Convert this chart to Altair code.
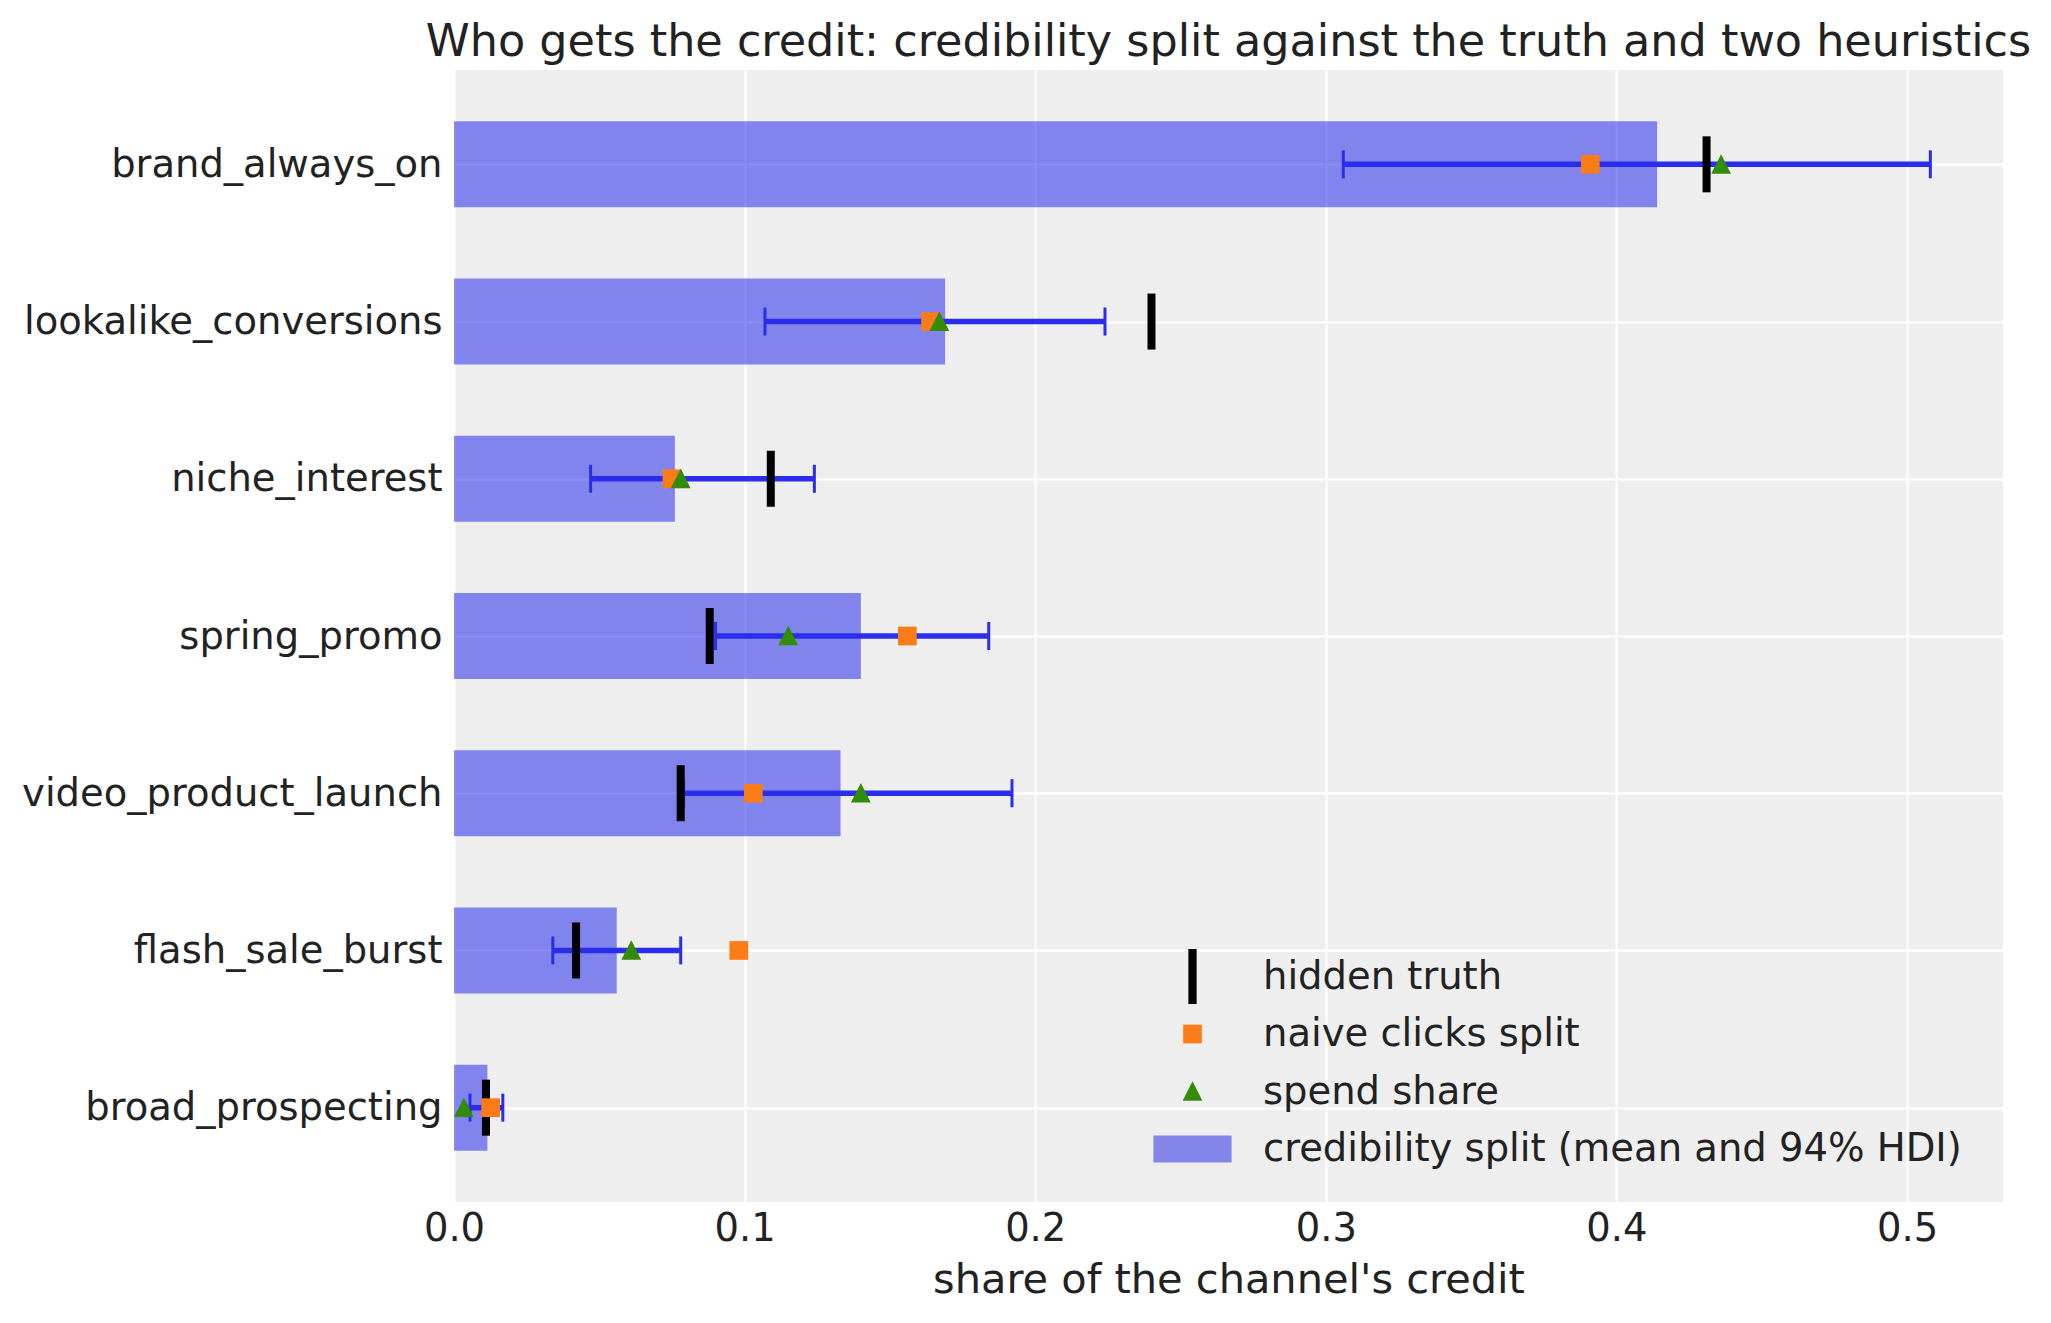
import pandas as pd
import altair as alt

# channels, top to bottom
channels = ["brand_always_on", "lookalike_conversions", "niche_interest", "spring_promo",
            "video_product_launch", "flash_sale_burst", "broad_prospecting"]

# credibility split: posterior mean and 94% HDI
cred_mean = [0.414, 0.169, 0.076, 0.140, 0.133, 0.056, 0.0115]
hdi_low = [0.306, 0.107, 0.047, 0.090, 0.079, 0.034, 0.0055]
hdi_high = [0.508, 0.224, 0.124, 0.184, 0.192, 0.078, 0.0168]

# reference splits
hidden_truth = [0.431, 0.240, 0.109, 0.088, 0.078, 0.042, 0.011]
naive_clicks = [0.391, 0.164, 0.075, 0.156, 0.103, 0.098, 0.0126]
spend_share = [0.436, 0.167, 0.078, 0.115, 0.140, 0.061, 0.0034]

x_ticks = [0.0, 0.1, 0.2, 0.3, 0.4, 0.5]

LBL_TRUTH = "hidden truth"
LBL_NAIVE = "naive clicks split"
LBL_SPEND = "spend share"
LBL_CRED = "credibility split (mean and 94% HDI)"

FONT = "DejaVu Sans"
TXT = "#222222"
BLUE = "#2a2eec"


def build_frame():
    df = pd.DataFrame({
        "channel": channels,
        "mean": cred_mean,
        "lo": hdi_low,
        "hi": hdi_high,
        "truth": hidden_truth,
        LBL_NAIVE: naive_clicks,
        LBL_SPEND: spend_share,
    })
    return df


def draw(df):
    xscale = alt.Scale(domain=[0, 0.533], nice=False, zero=False)
    yenc = alt.Y("channel:N", sort=channels, title=None,
                 scale=alt.Scale(type="point", padding=0.6))
    base = alt.Chart(df).encode(y=yenc)

    bars = base.mark_bar(size=86, color=BLUE, opacity=0.55).encode(
        x=alt.X("mean:Q", scale=xscale,
                axis=alt.Axis(values=x_ticks, format=".1f",
                              title="share of the channel's credit")),
    )

    err = base.mark_rule(color=BLUE, strokeWidth=5.5).encode(
        x=alt.X("lo:Q", scale=xscale), x2="hi:Q")

    cap_lo = base.mark_tick(color=BLUE, thickness=3, size=28, opacity=1).encode(
        x=alt.X("lo:Q", scale=xscale))
    cap_hi = base.mark_tick(color=BLUE, thickness=3, size=28, opacity=1).encode(
        x=alt.X("hi:Q", scale=xscale))

    truth = base.mark_tick(color="#000000", thickness=8, size=56, opacity=1).encode(
        x=alt.X("truth:Q", scale=xscale))

    # legend symbols drawn as custom paths, unit box -1..1
    legend_labels = [LBL_TRUTH, LBL_NAIVE, LBL_SPEND, LBL_CRED]
    legend_shapes = [
        "M-0.15,-1H0.15V1H-0.15Z",
        "M-0.34,-0.34H0.34V0.34H-0.34Z",
        "M0,-0.37L0.36,0.34L-0.36,0.34Z",
        "M-1.42,-0.49H1.42V0.49H-1.42Z",
    ]
    legend_colors = ["#000000", "#fa7c17", "#328c06", "#8385ea"]
    leg = alt.Legend(title=None, orient="none", legendX=711, legendY=879,
                     padding=0, symbolSize=3025, symbolStrokeWidth=0,
                     labelFontSize=38.5, labelFont=FONT, labelColor=TXT, labelLimit=0,
                     labelOffset=43, rowPadding=2.5, symbolOpacity=1, gridAlign="all")

    pts = base.transform_fold([LBL_NAIVE, LBL_SPEND], as_=["series", "share"]).mark_point(
        filled=True, size=3025, opacity=1, strokeWidth=0
    ).encode(
        x=alt.X("share:Q", scale=xscale),
        color=alt.Color("series:N", scale=alt.Scale(domain=legend_labels, range=legend_colors), legend=leg),
        shape=alt.Shape("series:N", scale=alt.Scale(domain=legend_labels, range=legend_shapes), legend=leg),
    )

    chart = alt.layer(bars, err, cap_lo, cap_hi, truth, pts).properties(
        width=1549,
        height=1132,
        title=alt.Title("Who gets the credit: credibility split against the truth and two heuristics",
                        fontSize=44.5, font=FONT, fontWeight="normal", color=TXT,
                        anchor="middle", baseline="alphabetic", offset=15, dy=45),
        autosize=alt.AutoSizeParams(type="none"),
        padding={"left": 446, "top": 62, "right": 40, "bottom": 110},
    ).configure_view(
        fill="#eeeeee", stroke=None
    ).configure_axis(
        labelFont=FONT, titleFont=FONT, labelColor=TXT, titleColor=TXT,
        labelFontSize=38.5, titleFontSize=41.5, titleFontWeight="normal",
        grid=True, gridColor="#ffffff", gridWidth=2, domain=False,
        ticks=False, tickSize=0, labelLimit=0, labelFlush=False,
    ).configure_axisX(
        labelPadding=8, titlePadding=12,
    ).configure_axisY(
        labelPadding=12,
    )
    return chart


def main():
    df = build_frame()
    chart = draw(df)
    chart.save("out.html", embed_options={"renderer": "svg", "actions": False})


if __name__ == "__main__":
    main()
